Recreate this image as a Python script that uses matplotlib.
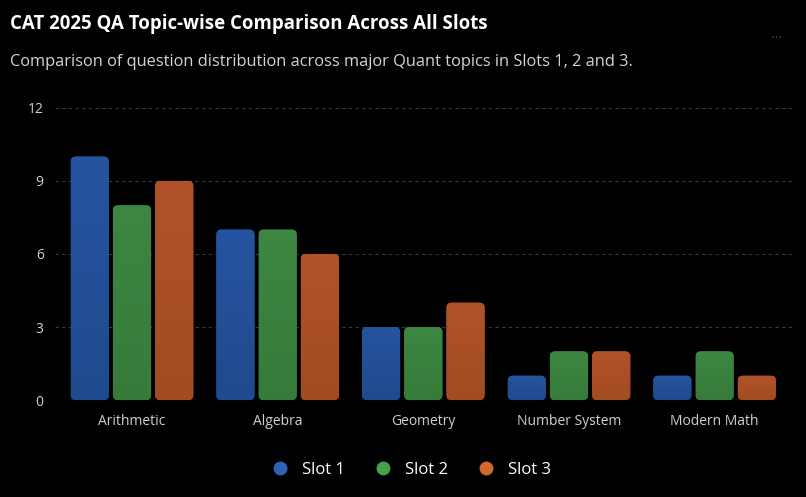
import numpy as np
import matplotlib
matplotlib.use('Agg')
from matplotlib import pyplot as plt
from matplotlib.patches import FancyBboxPatch
from matplotlib.lines import Line2D

plt.rcParams['font.family'] = ['Open Sans', 'DejaVu Sans']

# Data
topics = ['Arithmetic', 'Algebra', 'Geometry', 'Number System', 'Modern Math']
slot1 = [10, 7, 3, 1, 1]
slot2 = [8, 7, 3, 2, 2]
slot3 = [9, 6, 4, 2, 1]
series_names = ['Slot 1', 'Slot 2', 'Slot 3']
yticks = [0, 3, 6, 9, 12]

# bar colours (top, bottom) and legend colours
bar_cols = [('#2654a0', '#1f4a8d'), ('#3d8742', '#367b3a'), ('#b0532a', '#a34b22')]
leg_cols = ['#2d62b8', '#46a04c', '#d2672f']

fig = plt.figure(figsize=(8.06, 4.97), dpi=100, facecolor='black')
ax = fig.add_axes([0.068, 0.195, 0.918, 0.588])
ax.set_facecolor('black')

x = np.arange(len(topics))
offs = [-0.29, 0, 0.29]
width = 0.262

for vals, off, (ctop, cbot) in zip([slot1, slot2, slot3], offs, bar_cols):
    bars = ax.bar(x + off, vals, width, color='none')
    grad = np.linspace(0, 1, 100).reshape(-1, 1)
    cmap = matplotlib.colors.LinearSegmentedColormap.from_list('g', [cbot, ctop])
    for b in bars:
        bx, bw, bh = b.get_x(), b.get_width(), b.get_height()
        patch = FancyBboxPatch((bx, 0), bw, bh,
                               boxstyle='round,pad=0,rounding_size=0.035',
                               mutation_aspect=6.0, linewidth=0,
                               facecolor=cbot, clip_on=False, zorder=2)
        ax.add_patch(patch)
        im = ax.imshow(grad, extent=[bx, bx + bw, 0, bh], origin='lower',
                       cmap=cmap, aspect='auto', zorder=3)
        im.set_clip_path(patch)

ax.set_xlim(-0.53, 4.55)
ax.set_ylim(0, 12)
ax.set_yticks(yticks)
ax.set_xticks(x)
ax.set_xticklabels(topics)
ax.tick_params(axis='both', length=0, colors='#d0d0d0', labelsize=10)
ax.tick_params(axis='y', pad=8)
ax.tick_params(axis='x', pad=10)
for s in ax.spines.values():
    s.set_visible(False)
ax.grid(axis='y', color='#3a3a3a', linestyle=(0, (3, 3)), linewidth=0.8, zorder=0)
ax.set_axisbelow(True)

fig.text(0.012, 0.952, 'CAT 2025 QA Topic-wise Comparison Across All Slots',
         color='white', fontsize=13.4, fontweight='bold', va='center')
fig.text(0.012, 0.875, 'Comparison of question distribution across major Quant topics in Slots 1, 2 and 3.',
         color='#d4d4d4', fontsize=11.8, va='center')
fig.text(0.963, 0.93, '...', color='#444444', fontsize=10, ha='center', va='center')

handles = [Line2D([], [], marker='o', linestyle='', markersize=9,
                  markerfacecolor=c, markeredgecolor=c) for c in leg_cols]
fig.legend(handles, series_names, loc='center', bbox_to_anchor=(0.505, 0.055),
           ncol=3, frameon=False, labelcolor='white', fontsize=12,
           handletextpad=0.3, columnspacing=1.3)

fig.savefig('out.png', dpi=100, facecolor='black')
